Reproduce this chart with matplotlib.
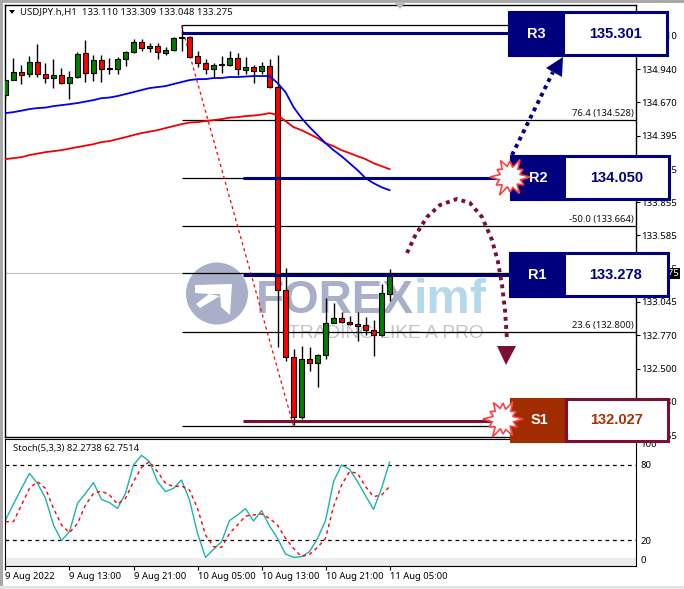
import numpy as np
import matplotlib
matplotlib.use('Agg')
import matplotlib.pyplot as plt
from matplotlib.patches import Polygon, Rectangle, Circle

W, H = 684, 589
plt.rcParams['font.family'] = ['Noto Sans', 'DejaVu Sans']

# hourly candles, one entry per bar
opens = [134.728, 134.850, 134.916, 134.899, 134.997, 134.899, 134.867, 134.891, 134.826, 134.875,
         135.071, 134.907, 135.013, 134.940, 134.940, 135.022, 135.079, 135.160, 135.111, 135.128,
         135.071, 135.095, 135.193, 135.201, 135.046, 134.989, 134.940, 134.973, 134.973, 135.030,
         134.932, 134.956, 134.924, 134.964, 134.793, 133.137, 132.591, 132.101, 132.574, 132.542,
         132.607, 132.868, 132.909, 132.876, 132.860, 132.852, 132.811, 132.770, 133.110]
closes = [134.850, 134.916, 134.891, 134.997, 134.899, 134.867, 134.891, 134.826, 134.875, 135.062,
          134.907, 135.013, 134.940, 134.948, 135.022, 135.079, 135.160, 135.111, 135.128, 135.079,
          135.095, 135.193, 135.201, 135.038, 134.989, 134.940, 134.973, 134.981, 135.030, 134.940,
          134.956, 134.924, 134.964, 134.793, 133.137, 132.591, 132.101, 132.574, 132.542, 132.607,
          132.868, 132.909, 132.876, 132.860, 132.844, 132.811, 132.770, 133.113, 133.275]
highs = [134.850, 135.030, 134.973, 135.046, 135.144, 134.989, 135.022, 134.948, 134.924, 135.079,
         135.177, 135.054, 135.054, 135.030, 135.038, 135.087, 135.185, 135.185, 135.152, 135.152,
         135.119, 135.201, 135.250, 135.209, 135.087, 135.022, 134.989, 135.046, 135.087, 135.071,
         135.038, 134.973, 134.997, 135.022, 135.054, 133.317, 132.656, 132.680, 132.672, 132.615,
         133.072, 133.031, 132.958, 132.925, 132.958, 132.917, 132.893, 133.186, 133.309]
lows = [134.695, 134.850, 134.818, 134.875, 134.875, 134.826, 134.785, 134.818, 134.695, 134.867,
        134.834, 134.842, 134.834, 134.899, 134.899, 134.964, 135.071, 135.087, 135.079, 135.022,
        135.054, 135.087, 135.087, 135.038, 134.956, 134.899, 134.875, 134.907, 134.964, 134.891,
        134.899, 134.826, 134.899, 134.785, 132.672, 132.558, 132.036, 132.085, 132.477, 132.346,
        132.574, 132.868, 132.868, 132.852, 132.721, 132.770, 132.599, 132.762, 133.048]

ma_blue = [134.581, 134.589, 134.601, 134.614, 134.622, 134.626, 134.638, 134.646, 134.654, 134.663,
           134.675, 134.687, 134.703, 134.708, 134.720, 134.736, 134.752, 134.769, 134.785, 134.793,
           134.801, 134.818, 134.834, 134.850, 134.858, 134.858, 134.867, 134.867, 134.875, 134.875,
           134.879, 134.883, 134.883, 134.883, 134.826, 134.752, 134.630, 134.540, 134.467, 134.402,
           134.336, 134.279, 134.230, 134.173, 134.116, 134.051, 134.010, 133.977, 133.953]
ma_red = [134.206, 134.214, 134.222, 134.239, 134.251, 134.263, 134.271, 134.279, 134.292, 134.304,
          134.316, 134.328, 134.345, 134.353, 134.369, 134.385, 134.402, 134.418, 134.430, 134.442,
          134.459, 134.475, 134.491, 134.504, 134.508, 134.516, 134.524, 134.532, 134.544, 134.548,
          134.557, 134.561, 134.569, 134.581, 134.565, 134.516, 134.467, 134.442, 134.410, 134.377,
          134.336, 134.312, 134.279, 134.255, 134.230, 134.206, 134.173, 134.149, 134.124]

stoch_main = [36, 48.8, 61.3, 73.3, 65.3, 53.3, 32, 19.5, 26.7, 49.3, 57.3, 65.9, 52.5, 49.9, 45.3, 57.3,
              80, 87.7, 82.7, 66.7, 58.7, 61.3, 68, 52, 25.3, 6.1, 12.5, 18.7, 35.5, 40, 45.1, 35.2,
              43.5, 31.2, 21.3, 8.8, 6.1, 6.7, 10.7, 21.3, 35.5, 66.7, 80, 76.5, 66.7, 55.5, 44.5,
              61.3, 82.27]
stoch_signal = [34.7, 34.7, 48, 61.3, 66.7, 61.3, 45.3, 32, 25.9, 33.3, 48, 57.3, 59.2, 56, 48.8, 53.3,
                66.7, 78.1, 82.7, 74.7, 65.3, 62.7, 63.2, 60, 45.3, 24, 14.7, 14.1, 25.3, 32, 39.2, 40,
                40.8, 37.3, 32, 21.3, 13.3, 6.7, 8.5, 14.1, 21.3, 46.7, 64, 74.7, 73.3, 62.7, 54.7, 56,
                62.75]

price_ticks = [135.210, 134.940, 134.670, 134.395, 134.125, 133.855, 133.585,
               133.315, 133.045, 132.770, 132.500, 132.230, 131.955]
stoch_ticks = [100, 80, 20, 0]
time_ticks = [0, 8, 16, 24, 32, 40, 48]
time_labels = ['9 Aug 2022', '9 Aug 13:00', '9 Aug 21:00', '10 Aug 05:00',
               '10 Aug 13:00', '10 Aug 21:00', '11 Aug 05:00']

fib_levels = [135.295, 134.528, 134.050, 133.664, 133.278, 132.800, 132.030]
fib_labels = {134.528: '76.4 (134.528)', 133.664: '-50.0 (133.664)', 132.800: '23.6 (132.800)'}
level_names = ['R3', 'R2', 'R1', 'S1']
level_values = ['135.301', '134.050', '133.278', '132.027']
level_lines = [135.234, 134.050, 133.265, 132.073]
bid = 133.275

NAVY = '#00007f'
MAROON = '#7c1030'


def pixel_axes(fig, left, top, right, bottom, **kw):
    return fig.add_axes([left / W, 1 - bottom / H, (right - left) / W, (bottom - top) / H], **kw)


fig = plt.figure(figsize=(W / 100, H / 100), dpi=100, facecolor='white')

# underlay: window chrome and the watermark, drawn in picture pixels
bg = pixel_axes(fig, 0, 0, W, H, zorder=0)
bg.set_xlim(0, W)
bg.set_ylim(H, 0)
bg.axis('off')
bg.add_patch(Rectangle((0, 0), W, 3, color='#a8a8a8', lw=0))
bg.add_patch(Rectangle((0, 0), 3, 586, color='#a8a8a8', lw=0))
bg.add_patch(Rectangle((0, 586), W, 3, color='#e4e4e4', lw=0))
bg.add_patch(Circle((217, 293.5), 31, color='#a9aec9', lw=0))
bg.add_patch(Polygon([(195, 285), (232, 284), (230, 315), (221, 307), (220, 294), (209, 294), (195, 293)],
                     color='white', lw=0))
bg.add_patch(Polygon([(209, 294), (220, 296), (200, 308), (196, 304)], color='white', lw=0))
bg.text(256, 313, 'FOREX', family='Liberation Sans', weight='bold', size=33, color='#a9aec9', va='baseline')
bg.text(414, 313, 'imf', family='Liberation Sans', weight='bold', size=35, color='#b5d8ea', va='baseline')
bg.text(288, 338, 'TRADING LIKE A PRO', family='Liberation Sans', size=13.8, color='#c4c4c8', va='baseline')

# price panel
ax = pixel_axes(fig, 5, 4.5, 636, 436.5, zorder=1)
ax.patch.set_visible(False)
ax.set_xlim(-0.06, 78.8)
ax.set_ylim(131.946, 135.466)
x = np.arange(len(opens))
opens, closes, highs, lows = map(np.array, (opens, closes, highs, lows))

ax.axhline(bid, color='#c4c4c4', lw=0.8, zorder=1)
ax.hlines(fib_levels, 22, 78.8, color='black', lw=0.9, zorder=2)
ax.vlines(22, level_lines[0], fib_levels[0], color='black', lw=0.9, zorder=2)
for lev, label in fib_labels.items():
    ax.text(78.5, lev + 0.012, label, ha='right', va='bottom', size=6.8, color='#111111', zorder=3)
ax.plot([22, 36], [fib_levels[0], fib_levels[-1]], color='red', lw=0.9, ls=(0, (2.5, 2.5)), zorder=3)

ax.vlines(x, lows, highs, color='black', lw=1, zorder=4)
up = closes >= opens
ax.bar(x[up], (closes - opens)[up], bottom=opens[up], width=0.62, color='#008000', edgecolor='black', lw=0.8, zorder=5)
ax.bar(x[~up], (closes - opens)[~up], bottom=opens[~up], width=0.62, color='#ff0000', edgecolor='black', lw=0.8, zorder=5)

ax.plot(x, ma_red, color='#f00000', lw=1.3, zorder=6)
ax.plot(x, ma_blue, color='#0000f0', lw=1.3, zorder=6)

ax.hlines(level_lines[0], 22, 63, color=NAVY, lw=2.2, zorder=7)
ax.hlines(level_lines[1:3], 29.7, 63, color=NAVY, lw=2.2, zorder=7)
ax.hlines(level_lines[3], 29.7, 63, color=MAROON, lw=2.2, zorder=7)

ax.yaxis.tick_right()
ax.set_yticks(price_ticks)
ax.set_yticklabels(['%.3f' % p for p in price_ticks])
ax.set_xticks([])
ax.tick_params(axis='y', length=3, width=0.8, pad=0.5, labelsize=6.9)
for spine in ax.spines.values():
    spine.set_linewidth(1)
# current-price tag; the R1 box hides all but its last digit, as in the terminal
ax.text(1.0115, bid, '%.3f' % bid, transform=ax.get_yaxis_transform(), color='white', size=6.9, ha='left', va='center',
        bbox=dict(facecolor='black', edgecolor='none', pad=1), zorder=8, clip_on=False)

# stochastic panel
ax2 = pixel_axes(fig, 5, 438.5, 636, 566, zorder=1)
ax2.set_xlim(-0.06, 78.8)
ax2.set_ylim(-0.8, 101.2)
ax2.axhspan(-0.8, 5.6, color='#ececec', lw=0, zorder=0)
ax2.axhline(80, color='black', lw=0.9, ls=(0, (3, 3)))
ax2.axhline(20, color='black', lw=0.9, ls=(0, (3, 3)))
ax2.plot(x, stoch_main, color='#20b2aa', lw=1)
ax2.plot(x, stoch_signal, color='red', lw=1, ls=(0, (2.5, 2.5)))
ax2.yaxis.tick_right()
ax2.set_yticks(stoch_ticks)
ax2.set_yticklabels([str(v) for v in stoch_ticks])
ax2.tick_params(axis='y', length=0, pad=3, labelsize=6.9)
ylabels = ax2.get_yticklabels()
ylabels[0].set_va('top')
ylabels[-1].set_va('bottom')
ax2.set_xticks(time_ticks)
ax2.set_xticklabels(time_labels, ha='left')
ax2.tick_params(axis='x', length=3, width=0.8, pad=1, labelsize=6.8)
ax2.text(0.012, 0.955, 'Stoch(5,3,3) 82.2738 62.7514', transform=ax2.transAxes, size=6.8, va='top', color='#111111')

# overlay: header text and the trade-plan drawing, in picture pixels
top = pixel_axes(fig, 0, 0, W, H, zorder=5)
top.set_xlim(0, W)
top.set_ylim(H, 0)
top.axis('off')
top.add_patch(Polygon([(9, 10), (15, 10), (12, 14)], color='black', lw=0))
top.add_patch(Polygon([(394, 2), (406, 2), (400, 9)], color='#b8b8b8', lw=0))
top.text(20, 12.5, 'USDJPY.h,H1  133.110 133.309 133.048 133.275', size=6.9, va='center', color='#111111')

boxes = [(508, 563, 667, 11, 56, NAVY, NAVY, NAVY),
         (510, 564, 669, 155, 200, NAVY, NAVY, NAVY),
         (509, 564, 668, 252, 297, NAVY, NAVY, NAVY),
         (510, 566, 668, 398, 442, '#a02c00', MAROON, '#a83000')]
for (x0, x1, x2, y0, y1, fill, edge, txt), name, val in zip(boxes, level_names, level_values):
    top.add_patch(Rectangle((x0, y0), x1 - x0, y1 - y0, facecolor=fill, edgecolor=fill, lw=0.8, zorder=2))
    top.add_patch(Rectangle((x1, y0 + 1), x2 - x1, y1 - y0 - 2, facecolor='white', edgecolor=edge, lw=2.2, zorder=2))
    top.text((x0 + x1) / 2 + 1, (y0 + y1) / 2 + 0.5, name, color='white', family='Liberation Sans', weight='bold',
             size=10.5, ha='center', va='center', zorder=3)
    top.text((x1 + x2) / 2, (y0 + y1) / 2 + 0.5, val, color=txt, family='Liberation Sans', weight='bold',
             size=10.5, ha='center', va='center', zorder=3)

# dotted arrows
top.plot([512, 553], [155, 72], color=NAVY, lw=2.8, ls=(0, (1, 1.1)), zorder=3)
top.add_patch(Polygon([(563, 57), (546, 68), (562, 77)], color=NAVY, lw=0, zorder=3))
curve_x = [407, 415, 427, 440, 457, 470, 482, 492, 498, 502, 505, 507]
curve_y = [253, 236, 217, 205, 199, 203, 217, 240, 262, 285, 310, 340]
top.plot(curve_x, curve_y, color=MAROON, lw=2.8, ls=(0, (1, 1.1)), zorder=3)
top.add_patch(Polygon([(497, 346), (516, 346), (506, 365)], color=MAROON, lw=0, zorder=3))

# starbursts where the price meets a level
radii = [20, 11, 16, 10, 19, 11, 15, 10, 21, 11, 16, 11, 20, 10, 15, 11, 19, 11, 16, 10, 20, 11, 15, 10]
angles = np.linspace(0, 2 * np.pi, len(radii), endpoint=False)
for cx, cy in [(510, 177), (503, 419)]:
    pts = np.column_stack([cx + np.array(radii) * np.cos(angles), cy + np.array(radii) * np.sin(angles)])
    top.add_patch(Polygon(pts, facecolor='white', edgecolor='#ff4040', lw=1.2, zorder=4))

fig.savefig('out.png', dpi=100)
